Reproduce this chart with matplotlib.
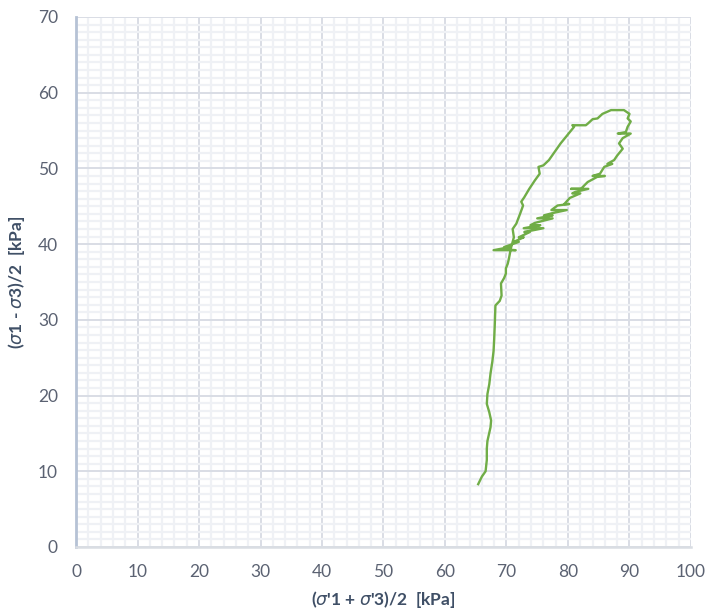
import matplotlib
matplotlib.use("Agg")
import matplotlib.pyplot as plt
from matplotlib.ticker import MultipleLocator

# stress path values (kPa)
# first loading (virgin) part
p_load = [65.4, 66.0, 66.6, 66.8, 66.8, 66.9, 67.4, 67.5, 67.2, 66.8, 66.9, 67.2,
          67.4, 67.7, 67.9, 68.0, 68.1, 68.2, 68.9, 69.2, 69.1, 69.6, 69.9, 69.9,
          70.2, 70.4]
q_load = [8.3, 9.3, 10.0, 11.5, 13.0, 14.0, 15.8, 16.7, 17.8, 18.9, 20.2, 21.5,
          22.9, 24.5, 25.9, 27.5, 29.5, 31.9, 32.5, 33.2, 34.8, 35.5, 36.1, 36.8,
          37.4, 38.1]

# upper branch up to the peak
p_up = [70.7, 71.2, 71.0, 71.6, 72.3, 72.7, 72.4, 72.9, 73.7, 74.6, 75.4, 75.2,
        76.0, 76.9, 78.8, 81.0, 80.7, 82.9, 83.2, 84.0, 84.8, 85.6, 87.0, 89.1,
        90.0]
q_up = [39.4, 40.9, 42.0, 42.7, 44.2, 45.1, 45.6, 46.2, 47.3, 48.4, 49.3, 50.2,
        50.4, 51.1, 53.3, 55.5, 55.7, 55.7, 55.9, 56.5, 56.6, 57.2, 57.7, 57.7,
        57.2]

# lower branch back down (noisy readings)
p_down = [89.7, 90.2, 89.7, 89.4, 88.1, 90.2, 88.9, 88.3, 88.9, 88.0, 87.5, 86.4,
          87.2, 85.9, 85.2, 84.0, 86.0, 84.8, 83.2, 82.1, 80.5, 83.3, 81.2, 80.7,
          82.0, 80.3, 79.4, 80.2, 78.3, 77.3, 79.8, 77.5, 76.1, 77.5, 75.0, 77.5,
          74.6, 73.9, 75.5, 72.8, 76.0, 72.9, 73.8, 72.0, 72.8, 71.2, 72.0, 69.6,
          70.5, 67.9, 71.5, 70.0]
q_down = [56.6, 56.2, 55.5, 54.8, 54.6, 54.6, 54.0, 53.3, 52.6, 51.7, 51.1, 50.6,
          50.6, 50.2, 49.3, 49.0, 49.0, 48.9, 48.2, 47.3, 47.3, 47.3, 46.9, 46.7,
          46.7, 46.1, 45.3, 45.3, 45.1, 44.5, 44.5, 44.1, 43.8, 43.8, 43.4, 43.4,
          42.8, 42.5, 42.5, 42.1, 42.1, 41.6, 41.6, 40.9, 40.9, 40.3, 40.3, 39.6,
          39.6, 39.2, 39.2, 39.3]

p_vals = p_load + p_up + p_down
q_vals = q_load + q_up + q_down

plt.rcParams['font.family'] = ['Lato', 'DejaVu Sans']

fig = plt.figure(figsize=(7.09, 6.15), dpi=100)
ax = fig.add_axes([0.1072, 0.1106, 0.8674, 0.8618])

ax.plot(p_vals, q_vals, color="#70ad47", linewidth=1.7, zorder=3)

ax.set_xlim(0, 100)
ax.set_ylim(0, 70)
ax.xaxis.set_major_locator(MultipleLocator(10))
ax.yaxis.set_major_locator(MultipleLocator(10))
ax.xaxis.set_minor_locator(MultipleLocator(2))
ax.yaxis.set_minor_locator(MultipleLocator(1))

ax.grid(which="minor", color="#eff1f5", linewidth=1.6, zorder=0)
ax.grid(which="major", color="#d9dde5", linewidth=1.4, zorder=1)
ax.set_axisbelow(True)

ax.tick_params(which="both", length=0)
ax.tick_params(axis="x", pad=12, labelsize=12.5, labelcolor="#5b6272")
ax.tick_params(axis="y", pad=13, labelsize=12.5, labelcolor="#5b6272")

for s in ["top", "right"]:
    ax.spines[s].set_visible(False)
ax.spines["left"].set_color("#b6c2d5")
ax.spines["left"].set_linewidth(2)
ax.spines["bottom"].set_color("#d9dde3")
ax.spines["bottom"].set_linewidth(1.8)

ax.set_xlabel(r"($\sigma$'1 + $\sigma$'3)/2  [kPa]", fontsize=12.5,
              fontweight="bold", color="#3f4f66", labelpad=7)
ax.set_ylabel(r"($\sigma$1 - $\sigma$3)/2  [kPa]", fontsize=12.5,
              fontweight="bold", color="#3f4f66", labelpad=8)

fig.savefig("out.png", dpi=100)
